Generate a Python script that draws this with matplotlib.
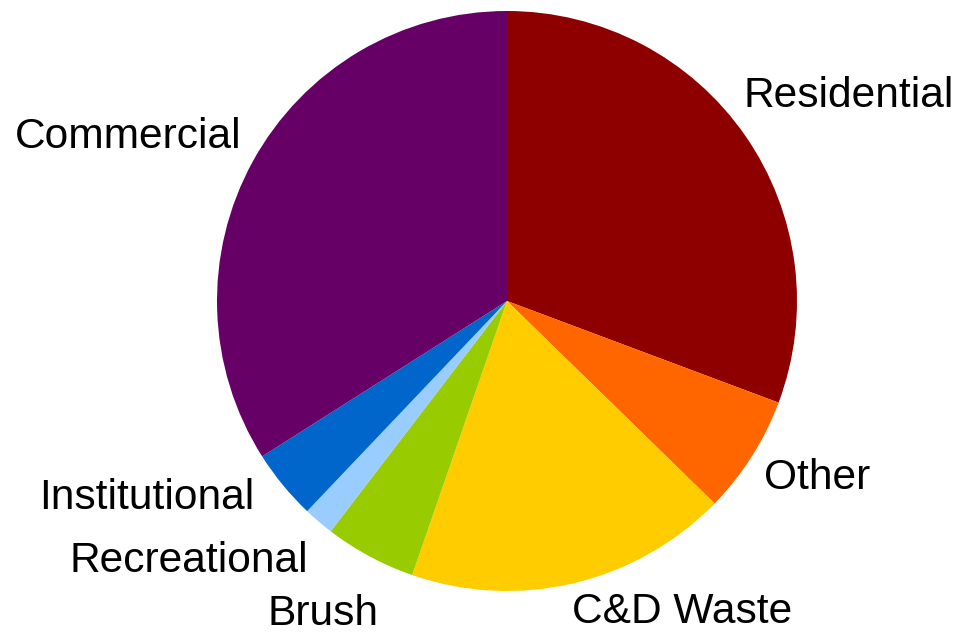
import matplotlib
matplotlib.use('Agg')
import matplotlib.pyplot as plt

plt.rcParams['font.family'] = ['Liberation Sans', 'DejaVu Sans']

# Data (share of total, %), clockwise from 12 o'clock
categories = ['Residential', 'Other', 'C&D Waste', 'Brush',
              'Recreational', 'Institutional', 'Commercial']
shares = [30.7, 6.6, 18.0, 5.1, 1.7, 3.9, 34.0]
colors = ['#8E0000', '#FF6600', '#FFCC00', '#99CC00',
          '#99CCFF', '#0066CC', '#660066']

# Label anchors (in units of pie radius) and alignment
label_pos = [(0.817, 0.669), (0.886, -0.648), (0.224, -1.112), (-0.634, -1.118),
             (-0.686, -0.934), (-0.872, -0.717), (-0.917, 0.528)]
label_ha = ['left', 'left', 'left', 'center', 'right', 'right', 'right']

fig = plt.figure(figsize=(9.54, 6.33), dpi=100)
ax = fig.add_axes([0, 0, 1, 1])

ax.pie(shares, colors=colors, startangle=90, counterclock=False,
       radius=1.0, wedgeprops=dict(linewidth=0, antialiased=True))

for name, (x, y), ha in zip(categories, label_pos, label_ha):
    ax.text(x, y, name, ha=ha, va='baseline', fontsize=30.6, color='black')

ax.set_xlim(-507 / 290, 447 / 290)
ax.set_ylim(-332 / 290, 301 / 290)
ax.set_aspect('equal')
ax.axis('off')

fig.savefig('out.png', dpi=100, facecolor='white')
